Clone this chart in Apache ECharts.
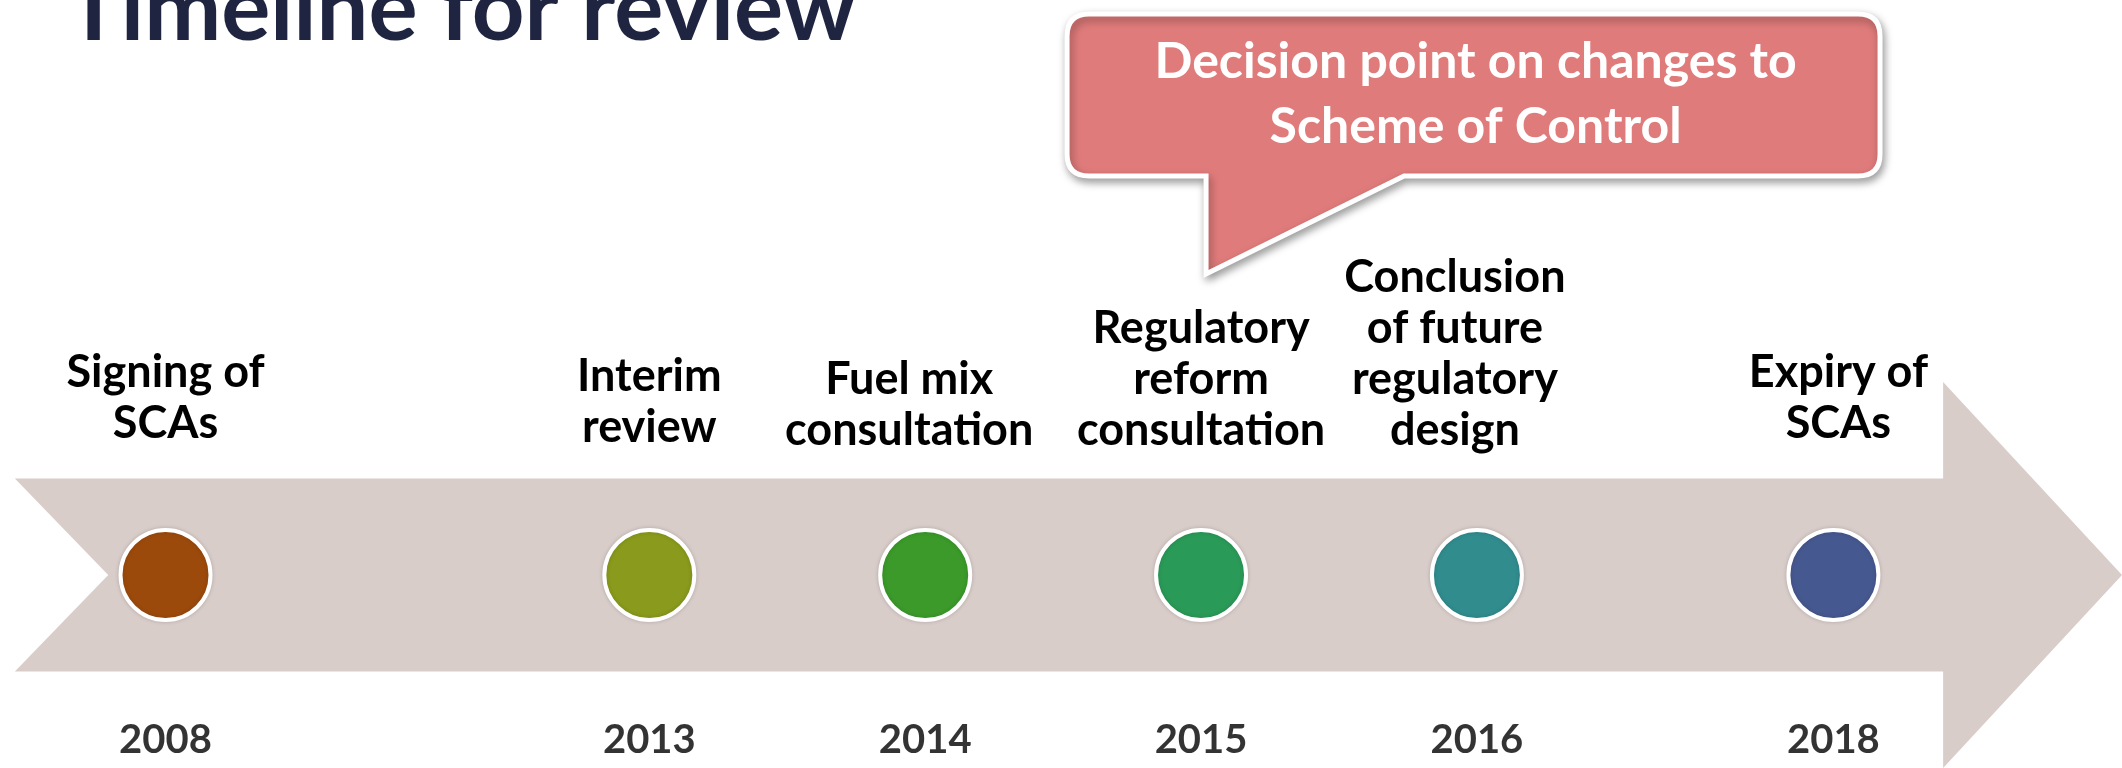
<!DOCTYPE html>
<html>
<head>
<meta charset="utf-8">
<script src="https://cdn.jsdelivr.net/npm/echarts@6/dist/echarts.min.js"></script>
<style>
  html, body { margin: 0; padding: 0; background: #ffffff; }
  #chart { width: 2122px; height: 768px; }
</style>
</head>
<body>
<div id="chart"></div>
<script>
// ---- data ----
const years = ['2008', '2013', '2014', '2015', '2016', '2018'];
const milestones = [
  'Signing of\nSCAs',
  'Interim\nreview',
  'Fuel mix\nconsultation',
  'Regulatory\nreform\nconsultation',
  'Conclusion\nof future\nregulatory\ndesign',
  'Expiry of\nSCAs'
];
// position of each milestone along the arrow (percent of arrow length)
const timelinePos = [7.8, 30.6, 43.6, 56.6, 69.6, 86.4];
const dotColors = ['#9C4A0C', '#8A9A1C', '#3B9A2A', '#2A9A58', '#318C8E', '#465890'];
const titleText = 'Timeline for review';
const calloutText = 'Decision point on changes to\nScheme of Control';
const calloutYear = '2015';

// ---- layout tweaks (label offsets in px, not data) ----
const labelNudgeX = [0, 0, -16, 0, -22, 5];
const labelDistance = [79, 75, 72, 72, 72, 79];

// ---- chart ----
const FONT = 'Lato, "Open Sans", sans-serif';
const chart = echarts.init(document.getElementById('chart'), null, { renderer: 'canvas' });

const points = years.map((y, i) => ({
  name: y,
  value: [timelinePos[i], 0],
  itemStyle: { color: dotColors[i] },
  label: { formatter: milestones[i], offset: [labelNudgeX[i], 0], distance: labelDistance[i] }
}));
const yearPoints = years.map((y, i) => ({ name: y, value: [timelinePos[i], 0] }));
const calloutIdx = years.indexOf(calloutYear);

const option = {
  backgroundColor: '#ffffff',
  animation: false,
  title: {
    text: titleText,
    left: 66,
    top: -36,
    padding: 0,
    textStyle: { fontFamily: FONT, fontSize: 92, fontWeight: 'bold', color: '#1F2541' }
  },
  grid: { left: 0, right: 0, top: 382, bottom: 0 },
  xAxis: { type: 'value', min: 0, max: 100, show: false },
  yAxis: { type: 'value', min: -1, max: 1, show: false },
  series: [
    {
      // arrow band
      type: 'custom',
      silent: true,
      z: 1,
      data: [[0, 0]],
      renderItem: function (params, api) {
        const pts = [
          [0.7, 0.5], [91.57, 0.5], [91.57, 1], [100, 0], [91.57, -1],
          [91.57, -0.5], [0.7, -0.5], [5.1, 0]
        ].map(p => api.coord(p));
        return { type: 'polygon', shape: { points: pts }, style: { fill: '#D9CDCA' } };
      }
    },
    {
      // milestone dots + labels above
      type: 'scatter',
      z: 3,
      symbol: 'circle',
      symbolSize: 90,
      itemStyle: { opacity: 1, borderColor: '#ffffff', borderWidth: 4, shadowColor: 'rgba(0,0,0,0.15)', shadowBlur: 4 },
      label: {
        show: true,
        position: 'top',
        fontFamily: FONT,
        fontSize: 45,
        fontWeight: 'bold',
        lineHeight: 51,
        color: '#000000',
        align: 'center'
      },
      data: points
    },
    {
      // years below
      type: 'scatter',
      z: 3,
      symbolSize: 0,
      silent: true,
      label: {
        show: true,
        position: 'bottom',
        distance: 141,
        formatter: '{b}',
        fontFamily: FONT,
        fontSize: 40,
        fontWeight: 'bold',
        lineHeight: 48,
        color: '#000000'
      },
      data: yearPoints
    },
    {
      // callout anchored on the decision-point milestone
      type: 'custom',
      z: 5,
      silent: true,
      data: [[timelinePos[calloutIdx], 0]],
      renderItem: function (params, api) {
        const c = api.coord([api.value(0), api.value(1)]);
        const px = c[0] + 5;
        const L = c[0] - 134, R = c[0] + 679, T = 14, B = 176, r = 22;
        const bx = px + 198, tipY = 274;
        const d = 'M' + (L + r) + ' ' + T + ' H' + (R - r) +
          ' Q' + R + ' ' + T + ' ' + R + ' ' + (T + r) +
          ' V' + (B - r) +
          ' Q' + R + ' ' + B + ' ' + (R - r) + ' ' + B +
          ' H' + bx + ' L' + px + ' ' + tipY + ' V' + B +
          ' H' + (L + r) +
          ' Q' + L + ' ' + B + ' ' + L + ' ' + (B - r) +
          ' V' + (T + r) +
          ' Q' + L + ' ' + T + ' ' + (L + r) + ' ' + T + ' Z';
        return {
          type: 'group',
          children: [
            {
              type: 'path',
              shape: { pathData: d },
              style: {
                fill: '#E07B7B', stroke: '#ffffff', lineWidth: 5, lineJoin: 'miter',
                shadowColor: 'rgba(0,0,0,0.35)', shadowBlur: 8, shadowOffsetX: 2, shadowOffsetY: 4
              }
            },
            {
              type: 'text',
              style: {
                x: (L + R) / 2 + 2, y: (T + B) / 2 - 1,
                text: calloutText,
                fill: '#ffffff',
                font: 'bold 50px ' + FONT,
                align: 'center', verticalAlign: 'middle', lineHeight: 65
              }
            }
          ]
        };
      }
    }
  ]
};
chart.setOption(option);
</script>
</body>
</html>
